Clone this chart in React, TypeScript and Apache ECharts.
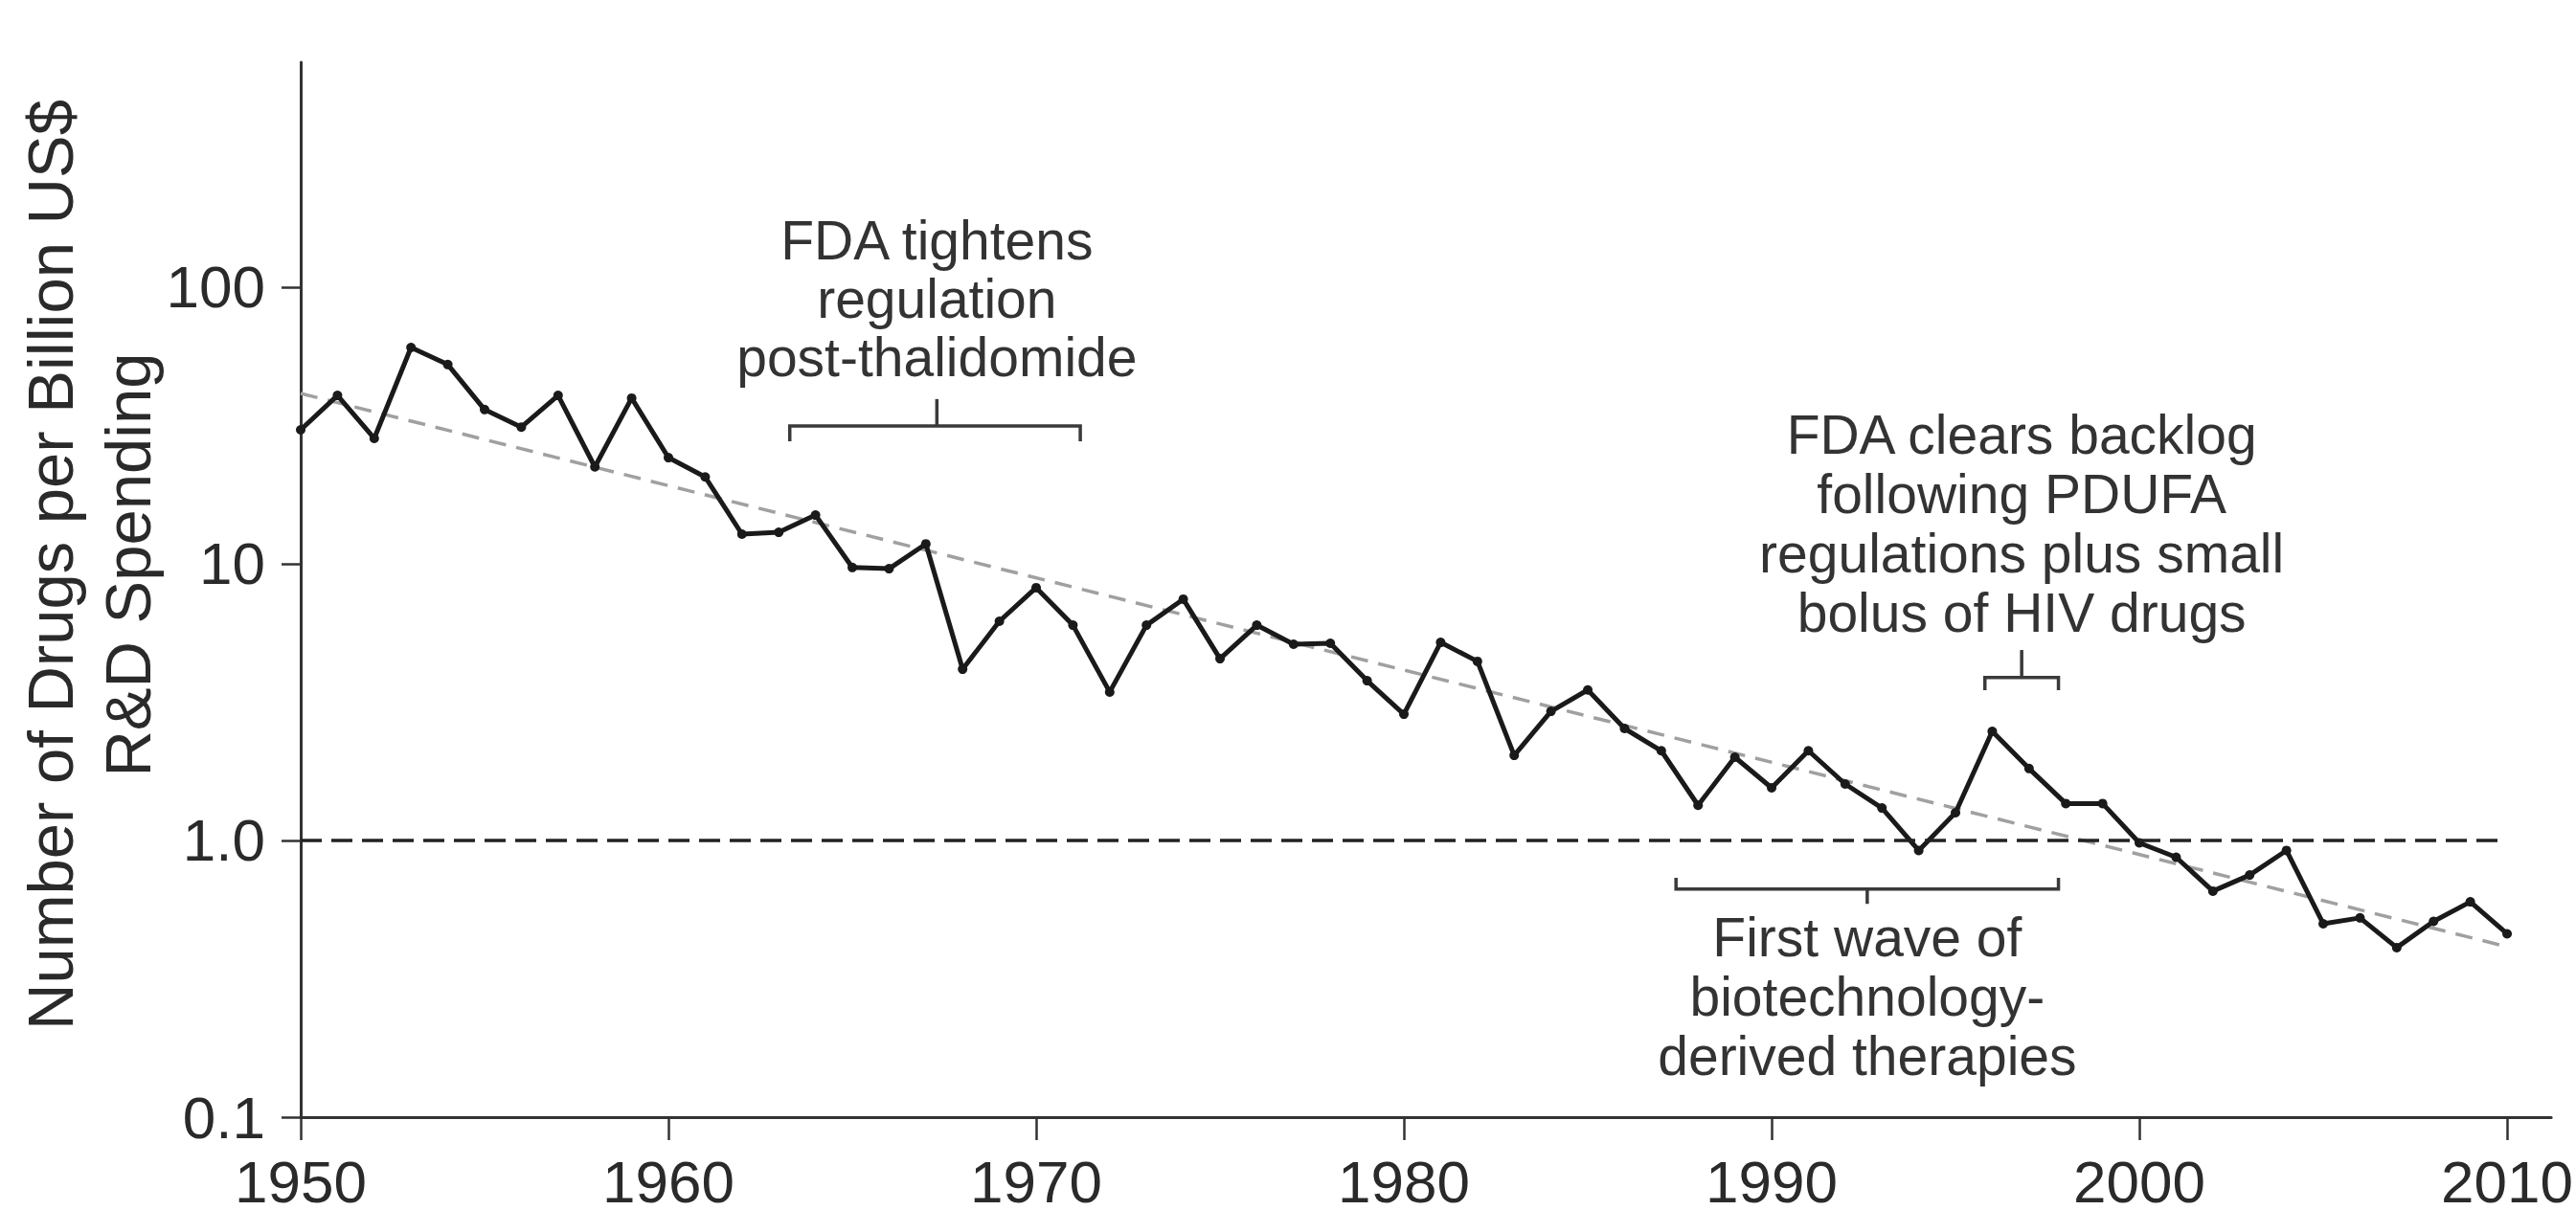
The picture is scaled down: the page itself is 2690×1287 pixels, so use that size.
import React, { useEffect, useRef } from "react";
import * as echarts from "echarts";

// ---- data ----
const years = [
  1950, 1951, 1952, 1953, 1954, 1955, 1956, 1957, 1958, 1959,
  1960, 1961, 1962, 1963, 1964, 1965, 1966, 1967, 1968, 1969,
  1970, 1971, 1972, 1973, 1974, 1975, 1976, 1977, 1978, 1979,
  1980, 1981, 1982, 1983, 1984, 1985, 1986, 1987, 1988, 1989,
  1990, 1991, 1992, 1993, 1994, 1995, 1996, 1997, 1998, 1999,
  2000, 2001, 2002, 2003, 2004, 2005, 2006, 2007, 2008, 2009,
  2010,
];
const drugsPerBillion = [
  30.5, 40.6, 28.4, 60.5, 52.5, 36.1, 31.2, 40.6, 22.4, 39.7,
  24.2, 20.6, 12.8, 13.0, 15.0, 9.7, 9.6, 11.8, 4.16, 6.2,
  8.2, 6.0, 3.44, 6.0, 7.45, 4.54, 6.0, 5.12, 5.16, 3.78,
  2.86, 5.2, 4.44, 2.03, 2.93, 3.5, 2.54, 2.11, 1.34, 2.0,
  1.55, 2.11, 1.6, 1.31, 0.92, 1.26, 2.48, 1.82, 1.36, 1.36,
  0.98, 0.87, 0.656, 0.75, 0.92, 0.5, 0.525, 0.41, 0.51, 0.6,
  0.46,
];
const trendYears = [1950, 2010];
const trendValues = [41.3, 0.413];
const referenceValue = 1.0;
const xTickYears = [1950, 1960, 1970, 1980, 1990, 2000, 2010];
const yTickValues = [0.1, 1, 10, 100];
const yTickLabels = ["0.1", "1.0", "10", "100"];
const yAxisTitleLines = ["Number of Drugs per Billion US$", "R&D Spending"];

// annotation brackets: years and levels in data units
const annotationTexts = [
  "FDA tightens\nregulation\npost-thalidomide",
  "FDA clears backlog\nfollowing PDUFA\nregulations plus small\nbolus of HIV drugs",
  "First wave of\nbiotechnology-\nderived therapies",
];
const bracketFrom = [1963.3, 1995.8, 1987.4];
const bracketTo = [1971.2, 1997.8, 1997.8];
const bracketMid = [1967.3, 1996.8, 1992.6];
const bracketBar = [31.5, 3.88, 0.667];
const bracketEnd = [27.7, 3.49, 0.733];
const bracketTip = [39.4, 4.88, 0.59];
const textLevel = [91.0, 14.0, 0.273];
const textLineHeight = [61, 62, 62];

const FONT = "'Liberation Sans', Arial, Helvetica, sans-serif";
const lg = (v: number) => Math.log10(v);

export default function App() {
  const ref = useRef<HTMLDivElement>(null);

  useEffect(() => {
    if (!ref.current) return;
    const chart = echarts.init(ref.current, undefined, { renderer: "svg" });

    const bracketLines = annotationTexts.map((_, i) => ({
      coords: [
        [bracketFrom[i], lg(bracketEnd[i])],
        [bracketFrom[i], lg(bracketBar[i])],
        [bracketTo[i], lg(bracketBar[i])],
        [bracketTo[i], lg(bracketEnd[i])],
      ],
    }));
    const bracketTicks = annotationTexts.map((_, i) => ({
      coords: [
        [bracketMid[i], lg(bracketBar[i])],
        [bracketMid[i], lg(bracketTip[i])],
      ],
    }));

    const option: any = {
      animation: false,
      backgroundColor: "#ffffff",
      grid: { left: 314, right: 0, top: 65, bottom: 120, containLabel: false },
      xAxis: {
        type: "value",
        min: 1950,
        max: 2011.2,
        axisLine: { onZero: false, lineStyle: { color: "#333", width: 3 } },
        axisTick: {
          show: true,
          length: 24,
          customValues: xTickYears,
          lineStyle: { color: "#333", width: 2.5 },
        },
        axisLabel: {
          customValues: xTickYears,
          margin: 36,
          fontSize: 62,
          fontFamily: FONT,
          color: "#2a2a2a",
          verticalAlign: "top",
          formatter: (v: number) => String(Math.round(v)),
        },
        splitLine: { show: false },
      },
      yAxis: {
        type: "value",
        min: -1,
        max: 2.813,
        axisLine: { show: true, onZero: false, lineStyle: { color: "#333", width: 3 } },
        axisTick: {
          show: true,
          length: 20,
          customValues: yTickValues.map(lg),
          lineStyle: { color: "#333", width: 2.5 },
        },
        axisLabel: {
          customValues: yTickValues.map(lg),
          margin: 37,
          fontSize: 62,
          fontFamily: FONT,
          color: "#2a2a2a",
          formatter: (v: number) => {
            let best = "";
            let bd = 1e9;
            yTickValues.forEach((t, i) => {
              const d = Math.abs(lg(t) - v);
              if (d < bd) {
                bd = d;
                best = yTickLabels[i];
              }
            });
            return bd < 1e-6 ? best : "";
          },
        },
        splitLine: { show: false },
      },
      series: [
        {
          type: "line",
          name: "trend",
          data: trendYears.map((y, i) => [y, lg(trendValues[i])]),
          showSymbol: false,
          symbol: "none",
          lineStyle: { color: "#a0a0a0", width: 3.5, type: [18, 11] },
          silent: true,
          z: 2,
        },
        {
          type: "line",
          name: "drugs",
          data: years.map((y, i) => [y, lg(drugsPerBillion[i])]),
          symbol: "circle",
          symbolSize: 10,
          itemStyle: { color: "#1a1a1a" },
          lineStyle: { color: "#1a1a1a", width: 5 },
          z: 4,
          markLine: {
            silent: true,
            symbol: "none",
            label: { show: false },
            lineStyle: { color: "#222", width: 3.5, type: [22, 10] },
            data: [
              [
                { coord: [years[0], lg(referenceValue)] },
                { coord: [years[years.length - 1], lg(referenceValue)] },
              ],
            ],
          },
        },
        {
          type: "lines",
          coordinateSystem: "cartesian2d",
          polyline: true,
          silent: true,
          lineStyle: { color: "#3a3a3a", width: 3.5, opacity: 1 },
          data: bracketLines.concat(bracketTicks),
          z: 3,
        },
      ],
      graphic: [
        {
          type: "text",
          x: 52,
          y: 590,
          rotation: Math.PI / 2,
          style: {
            text: yAxisTitleLines[0],
            fontSize: 67,
            fontFamily: FONT,
            fill: "#2a2a2a",
            align: "center",
            verticalAlign: "middle",
          },
        },
        {
          type: "text",
          x: 133,
          y: 590,
          rotation: Math.PI / 2,
          style: {
            text: yAxisTitleLines[1],
            fontSize: 67,
            fontFamily: FONT,
            fill: "#2a2a2a",
            align: "center",
            verticalAlign: "middle",
          },
        },
      ],
    };

    chart.setOption(option);

    // annotation texts, placed through the chart's own coordinate system
    const texts = annotationTexts.map((t, i) => {
      const p = chart.convertToPixel({ gridIndex: 0 }, [bracketMid[i], lg(textLevel[i])]) as number[];
      return {
        type: "text",
        x: p[0],
        y: p[1],
        silent: true,
        style: {
          text: t,
          fontSize: 57,
          lineHeight: textLineHeight[i],
          fontFamily: FONT,
          fill: "#333",
          align: "center",
          verticalAlign: "middle",
        },
      };
    });
    chart.setOption({ graphic: option.graphic.concat(texts) });

    return () => chart.dispose();
  }, []);

  return (
    <div
      ref={ref}
      style={{ position: "fixed", left: 0, top: 0, width: 2690, height: 1287, background: "#fff" }}
    />
  );
}
